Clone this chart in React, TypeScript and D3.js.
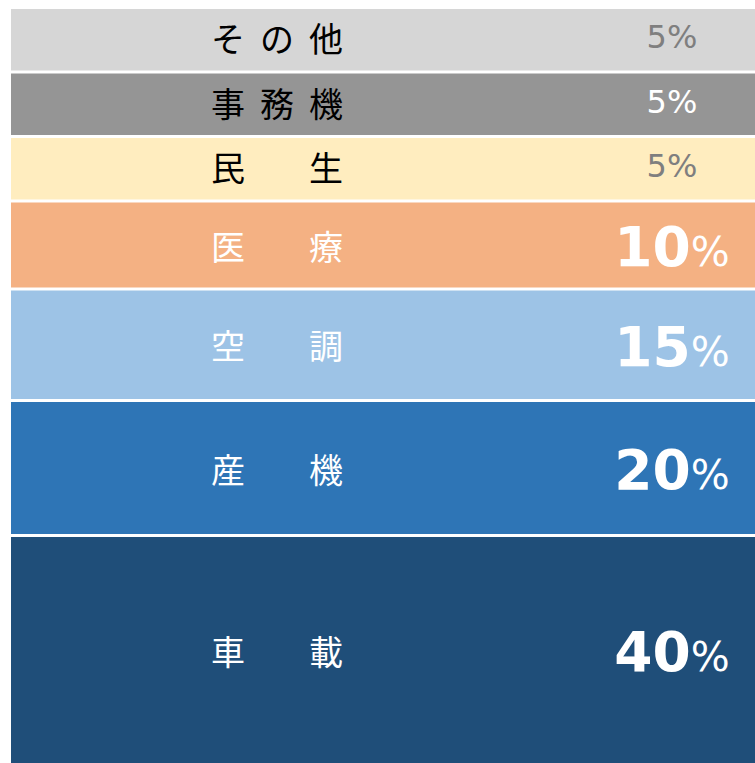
import React from "react";
import * as d3 from "d3";

const categories = ["その他", "事務機", "民生", "医療", "空調", "産機", "車載"];
const shares = [5, 5, 5, 10, 15, 20, 40];
const fills = ["#d6d6d6", "#959595", "#ffedbf", "#f4b183", "#9dc3e6", "#2e75b6", "#1f4e79"];
const nameColors = ["#000000", "#000000", "#000000", "#ffffff", "#ffffff", "#ffffff", "#ffffff"];
const pctColors = ["#7f7f7f", "#ffffff", "#7f7f7f", "#ffffff", "#ffffff", "#ffffff", "#ffffff"];
const bigLabel = [false, false, false, true, true, true, true];

const W = 755;
const H = 763;
const TOP = 9;
const LEFT = 11;
const BASE = 41; // minimum height each segment gets
const GAP = 3;

export default function App() {
  const total = d3.sum(shares);
  const prop = d3.scaleLinear().domain([0, total]).range([0, 470]);
  const heights = shares.map((v) => BASE + prop(v));
  const ends = Array.from(d3.cumsum(heights));
  const tops = ends.map((e, i) => TOP + e - heights[i]);
  const n = categories.length;

  const nameX0 = 211;
  const nameX1 = 309;
  const nameFs = 34;
  const pctX = 672;

  return (
    <svg
      width={W}
      height={H}
      style={{ position: "absolute", left: 0, top: 0, background: "#ffffff" }}
    >
      {categories.map((c, i) => {
        const y = tops[i];
        const h = heights[i] - GAP;
        const cy = y + h / 2;
        const chars = Array.from(c);
        const xs =
          chars.length === 1
            ? [nameX0]
            : chars.map((_, k) => nameX0 + ((nameX1 - nameX0) * k) / (chars.length - 1));
        return (
          <g key={c}>
            <rect
              x={LEFT}
              y={y}
              width={W + 10 - LEFT}
              height={i === n - 1 ? heights[i] + 10 : h}
              fill={fills[i]}
            />
            {chars.map((ch, k) => (
              <text
                key={k}
                x={xs[k]}
                y={cy + nameFs * 0.37 + (bigLabel[i] ? 2 : 0)}
                fontFamily="'Noto Sans CJK JP', sans-serif"
                fontSize={nameFs}
                fill={nameColors[i]}
              >
                {ch}
              </text>
            ))}
            {bigLabel[i] ? (
              <text
                x={pctX}
                y={cy + 56 * 0.364 + 1}
                textAnchor="middle"
                fontFamily="'DejaVu Sans', Verdana, sans-serif"
                fill={pctColors[i]}
              >
                <tspan fontSize={55} fontWeight="bold">{shares[i]}</tspan>
                <tspan fontSize={41}>%</tspan>
              </text>
            ) : (
              <text
                x={pctX}
                y={cy + 32 * 0.364 - 3}
                textAnchor="middle"
                fontFamily="'DejaVu Sans', Verdana, sans-serif"
                fontSize={32}
                fill={pctColors[i]}
              >
                {shares[i] + "%"}
              </text>
            )}
          </g>
        );
      })}
    </svg>
  );
}
